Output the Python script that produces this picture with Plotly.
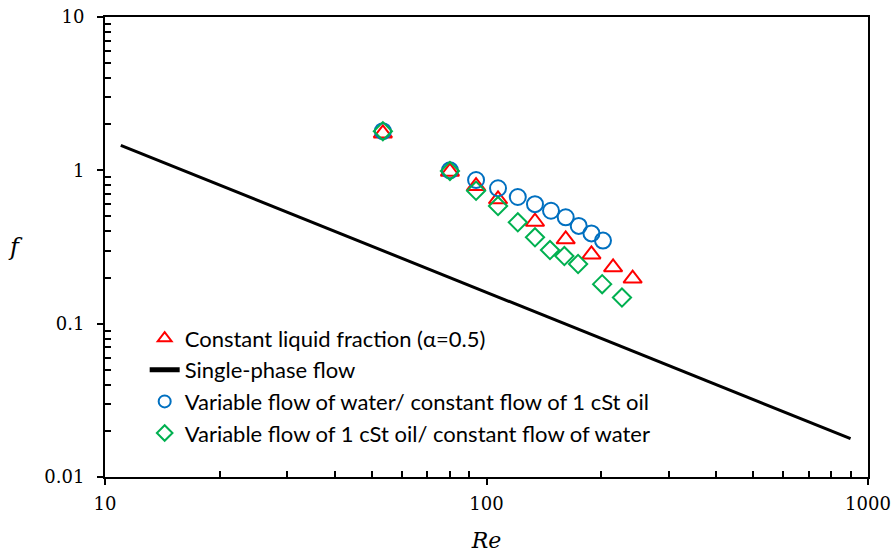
import plotly.graph_objects as go

# Friction factor vs Reynolds number
re_const = [53.5, 80.2, 93.9, 107.2, 134.0, 161.3, 188.4, 214.7, 241.6]
f_const = [1.74, 0.98, 0.79, 0.647, 0.462, 0.355, 0.283, 0.233, 0.197]

re_single = [11.0, 900.0]
f_single = [1.455, 0.0178]

re_water = [53.5, 80.2, 93.9, 107.2, 120.8, 134.0, 147.6, 161.3, 174.5, 188.4, 202.0]
f_water = [1.80, 1.0, 0.865, 0.764, 0.670, 0.602, 0.545, 0.494, 0.434, 0.388, 0.348]

re_oil = [53.5, 80.2, 93.9, 107.2, 120.8, 134.0, 146.7, 160.0, 173.8, 201.0, 226.5]
f_oil = [1.80, 0.99, 0.736, 0.585, 0.458, 0.366, 0.302, 0.276, 0.245, 0.181, 0.148]

x_ticks = [10, 100, 1000]
x_ticklabels = ["10", "100", "1000"]
y_ticks = [0.01, 0.1, 1, 10]
y_ticklabels = ["0.01", "0.1", "1", "10"]

# minor ticks at 2..9 within each decade
x_minor = [m * d for d in (10, 100) for m in range(2, 10)]
y_minor = [m * d for d in (0.01, 0.1, 1) for m in range(2, 10)]

RED = "#FF0000"
BLUE = "#0070C0"
GREEN = "#00B050"

fig = go.Figure()
fig.add_trace(go.Scatter(
    x=re_const, y=f_const, mode="markers", name="Constant liquid fraction (α=0.5)",
    marker=dict(symbol="triangle-up-open", size=16, color=RED, line=dict(width=2, color=RED)),
))
fig.add_trace(go.Scatter(
    x=re_single, y=f_single, mode="lines", name="Single-phase flow",
    line=dict(color="black", width=3),
))
fig.add_trace(go.Scatter(
    x=re_water, y=f_water, mode="markers", name="Variable flow of water/ constant flow of 1 cSt oil",
    marker=dict(symbol="circle-open", size=16, color=BLUE, line=dict(width=2, color=BLUE)),
))
fig.add_trace(go.Scatter(
    x=re_oil, y=f_oil, mode="markers", name="Variable flow of 1 cSt oil/ constant flow of water",
    marker=dict(symbol="diamond-open", size=14, color=GREEN, line=dict(width=2, color=GREEN)),
))

axis_common = dict(
    type="log", showgrid=False, zeroline=False, automargin=False,
    showline=True, linecolor="black", linewidth=2, mirror=True,
    ticks="outside", ticklen=6, tickwidth=2, tickcolor="black",
    tickfont=dict(family="DejaVu Serif", size=18, color="black"),
)

fig.update_xaxes(
    **axis_common, range=[1, 3],
    tickmode="array", tickvals=x_ticks, ticktext=x_ticklabels, ticklabelstandoff=3,
    minor=dict(tickmode="array", tickvals=x_minor, ticks="inside", ticklen=6,
               tickwidth=1.5, tickcolor="black", showgrid=False),
    title=dict(text="<i>Re</i>", font=dict(family="DejaVu Serif", size=22, color="black"), standoff=20),
)
fig.update_yaxes(
    **axis_common, range=[-2, 1],
    tickmode="array", tickvals=y_ticks, ticktext=y_ticklabels, ticklabelstandoff=9,
    minor=dict(tickmode="array", tickvals=y_minor, ticks="inside", ticklen=6,
               tickwidth=1.5, tickcolor="black", showgrid=False),
)

# upright italic axis label for f
fig.add_annotation(
    text="<i>f</i>", xref="paper", yref="paper", x=-0.117, y=0.5,
    xanchor="center", yanchor="middle", showarrow=False,
    font=dict(family="DejaVu Serif", size=24, color="black"),
)

fig.update_layout(
    width=893, height=558,
    margin=dict(l=105, r=25, t=17, b=81),
    paper_bgcolor="white", plot_bgcolor="white",
    font=dict(family="Lato", color="black"),
    legend=dict(
        x=0.052, y=0.347, xanchor="left", yanchor="top",
        bgcolor="rgba(0,0,0,0)", borderwidth=0,
        font=dict(family="Lato", size=22, color="black"),
        tracegroupgap=0, itemsizing="constant",
    ),
)

fig.write_html("out.html")
